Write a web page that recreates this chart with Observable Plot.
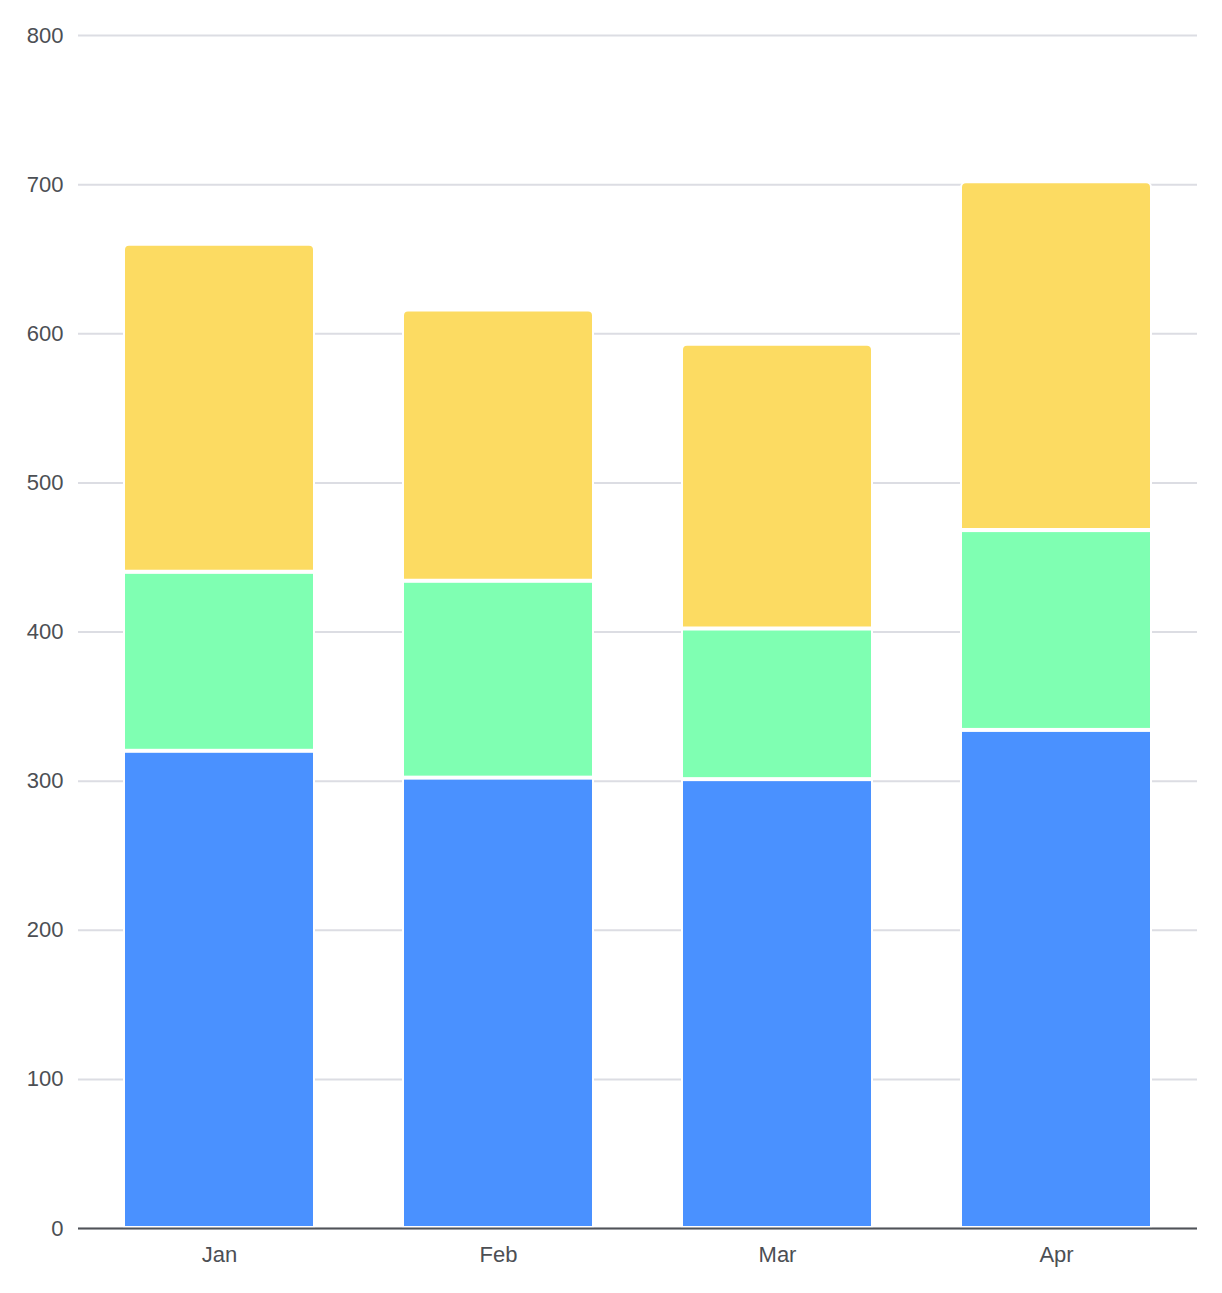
<!DOCTYPE html>
<html>
<head>
<meta charset="utf-8">
<script src="https://cdn.jsdelivr.net/npm/d3@7"></script>
<script src="https://cdn.jsdelivr.net/npm/@observablehq/plot@0.6"></script>
<style>
  html, body { margin: 0; padding: 0; background: #fff; }
  #chart svg { display: block; }
</style>
</head>
<body>
<div id="chart"></div>
<script>
const months = ["Jan", "Feb", "Mar", "Apr"];
const seriesNames = ["A", "B", "C"];
const seriesA = [320, 302, 301, 334];
const seriesB = [120, 132, 101, 134];
const seriesC = [220, 182, 191, 234];
const seriesColors = ["#4a91ff", "#7fffb2", "#fcdb62"];
const yTicks = [0, 100, 200, 300, 400, 500, 600, 700, 800];

const valuesBySeries = [seriesA, seriesB, seriesC];
const rows = [];
seriesNames.forEach((s, si) => {
  months.forEach((m, mi) => rows.push({month: m, series: s, value: valuesBySeries[si][mi]}));
});

function versionAtLeast(v, target) {
  const a = String(v || "0").split(".").map(Number);
  const b = target.split(".").map(Number);
  for (let i = 0; i < 3; i++) {
    if ((a[i] || 0) > b[i]) return true;
    if ((a[i] || 0) < b[i]) return false;
  }
  return true;
}
const canRoundTop = versionAtLeast(Plot.version, "0.6.12");
const topSeries = seriesNames[seriesNames.length - 1];

const barBase = {
  x: "month",
  y: "value",
  fill: "series",
  stroke: "white",
  strokeWidth: 2,
  insetTop: 1,
  insetBottom: 1,
  order: seriesNames
};

const chart = Plot.plot({
  width: 1222,
  height: 1293,
  marginLeft: 78,
  marginRight: 25,
  marginTop: 35,
  marginBottom: 65,
  style: {fontFamily: "'Liberation Sans', Arial, Helvetica, sans-serif", fontSize: "22px", color: "#4c4f54", background: "#fff"},
  x: {domain: months, paddingInner: 0.32, paddingOuter: 0.16, label: null},
  y: {domain: [0, 800], label: null},
  color: {domain: seriesNames, range: seriesColors},
  marks: [
    Plot.gridY(yTicks, {stroke: "#dcdde3", strokeWidth: 2, strokeOpacity: 1}),
    Plot.barY(rows, Plot.filter(d => d.series !== topSeries, Plot.stackY({...barBase}))),
    Plot.barY(rows, Plot.filter(d => d.series === topSeries, Plot.stackY({
      ...barBase,
      ...(canRoundTop ? {ry1: 5} : {rx: 5})
    }))),
    Plot.ruleY([0], {stroke: "#505358", strokeWidth: 2}),
    Plot.axisY(yTicks, {tickSize: 0, tickPadding: 15, fontSize: 22, fill: "#4c4f54", label: null}),
    Plot.axisX({tickSize: 0, tickPadding: 18, fontSize: 22, fill: "#4c4f54", label: null})
  ]
});
document.getElementById("chart").appendChild(chart);
</script>
</body>
</html>
